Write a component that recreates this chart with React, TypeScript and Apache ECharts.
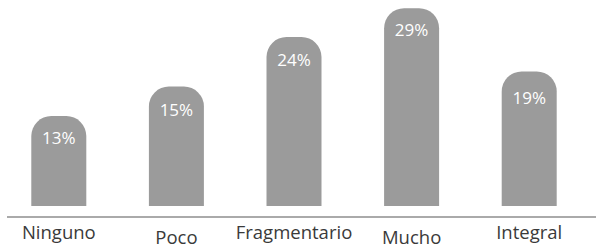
import React, { useEffect, useRef } from "react";
import * as echarts from "echarts";

const categories = ["Ninguno", "Poco", "Fragmentario", "Mucho", "Integral"];
// bar heights (percent)
const barValues = [13.1, 17.4, 24.6, 28.8, 19.6];
// printed labels
const valueLabels = ["13%", "15%", "24%", "29%", "19%"];
// label gap below each bar top (style)
const labelGaps = [13, 14, 14, 13, 18];

export default function App() {
  const ref = useRef<HTMLDivElement>(null);
  useEffect(() => {
    if (!ref.current) return;
    const chart = echarts.init(ref.current, null, { renderer: "svg" });
    chart.setOption({
      animation: false,
      grid: { left: -2, right: 8, top: 0, bottom: 29, containLabel: false },
      xAxis: {
        type: "category",
        data: categories,
        axisLine: { show: false },
        axisTick: { show: false },
        axisLabel: {
          interval: 0,
          margin: 16,
          formatter: (v: string, i: number) => (i % 2 === 1 ? `{lo|${v}}` : `{hi|${v}}`),
          rich: {
            hi: { fontFamily: "Open Sans", fontSize: 18.5, color: "#3a3a3a", padding: [0, 0, 0, 0] },
            lo: { fontFamily: "Open Sans", fontSize: 18.5, color: "#3a3a3a", padding: [5, 0, 0, 0] },
          },
        },
      },
      yAxis: {
        type: "value",
        min: 0,
        max: 30,
        show: false,
        splitLine: { show: false },
      },
      series: [
        {
          type: "bar",
          data: barValues.map((v, i) => ({ value: v, label: { distance: labelGaps[i] } })),
          barWidth: 55,
          itemStyle: { color: "#9b9b9b", borderRadius: [20, 20, 0, 0] },
          label: {
            show: true,
            position: "insideTop",
            distance: 14,
            color: "#ffffff",
            fontFamily: "Open Sans",
            fontSize: 17,
            formatter: (p: any) => valueLabels[p.dataIndex],
          },
        },
      ],
      graphic: [
        {
          type: "line",
          shape: { x1: 7, y1: 217, x2: 596, y2: 217 },
          style: { stroke: "#aaaaaa", lineWidth: 2 },
          z: 100,
        },
      ],
    });
    return () => chart.dispose();
  }, []);
  return (
    <div
      ref={ref}
      style={{ position: "absolute", left: 0, top: 0, width: 596, height: 246, background: "#fff" }}
    />
  );
}
